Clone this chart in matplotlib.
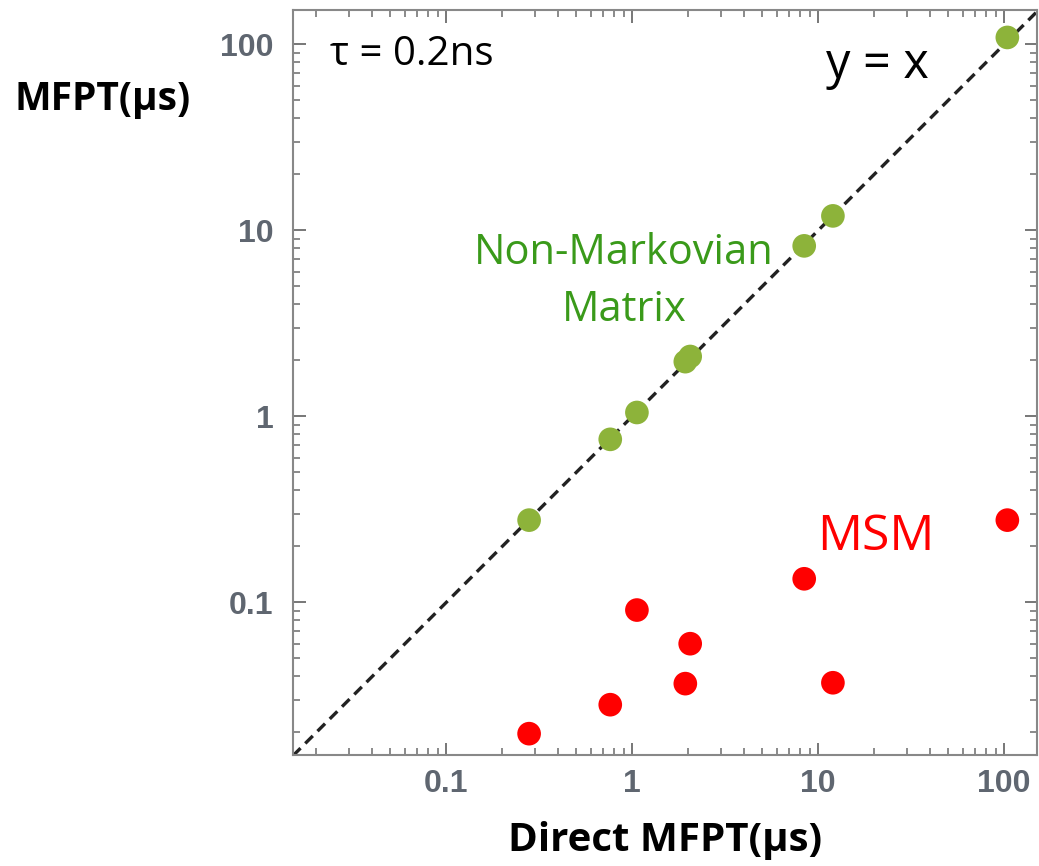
import numpy as np
import matplotlib.pyplot as plt
from matplotlib.ticker import LogLocator, NullFormatter, FixedLocator, FixedFormatter

# direct MFPT (x) and the two estimates (y), in microseconds
direct = [0.279, 0.762, 1.06, 1.93, 2.05, 8.41, 12.0, 104]
non_markov = [0.277, 0.753, 1.05, 1.97, 2.10, 8.26, 11.97, 109]
msm = [0.0197, 0.0282, 0.091, 0.0366, 0.060, 0.134, 0.037, 0.277]

tick_vals = [0.1, 1, 10, 100]
tick_labels = ['0.1', '1', '10', '100']

fig = plt.figure(figsize=(10.39, 8.66), dpi=100)
ax = fig.add_axes([0.282, 0.128, 0.716, 0.861])

lim = (0.0150, 152)
ax.plot(lim, lim, color='#222222', linestyle=(0, (3.2, 2.0)), linewidth=2.4, zorder=2)
ax.scatter(direct, non_markov, s=290, color='#8DB33A', edgecolors='none', zorder=3)
ax.scatter(direct, msm, s=290, color='#FF0000', edgecolors='none', zorder=3)

ax.set_xscale('log')
ax.set_yscale('log')
ax.set_xlim(0.0150, 150)
ax.set_ylim(0.0151, 154)

for axis in (ax.xaxis, ax.yaxis):
    axis.set_major_locator(FixedLocator(tick_vals))
    axis.set_major_formatter(FixedFormatter(tick_labels))
    axis.set_minor_locator(LogLocator(base=10, subs=np.arange(2, 10), numticks=20))
    axis.set_minor_formatter(NullFormatter())

ax.tick_params(which='both', direction='in', top=True, right=True, color='#777777')
ax.tick_params(which='major', length=9, width=1.4)
ax.tick_params(which='minor', length=5, width=1.2)
ax.tick_params(axis='x', pad=10)
ax.tick_params(axis='y', pad=14)
for lab in ax.get_xticklabels() + ax.get_yticklabels():
    lab.set_fontsize(23)
    lab.set_fontweight('bold')
    lab.set_color('#5F6670')
    lab.set_family('Liberation Sans')
for sp in ax.spines.values():
    sp.set_color('#888888')
    sp.set_linewidth(1.5)

fam = ['Open Sans', 'DejaVu Sans']
fig.text(0.014, 0.885, 'MFPT(μs)', fontsize=28, fontweight='bold', family=fam, va='center', ha='left')
fig.text(0.64, 0.03, 'Direct MFPT(μs)', fontsize=29, fontweight='bold', family=fam, va='center', ha='center')
ax.text(0.05, 0.94, 'τ = 0.2ns', transform=ax.transAxes, fontsize=29, family=fam, va='center', ha='left')
ax.text(0.785, 0.925, 'y = x', transform=ax.transAxes, fontsize=35, family=fam, va='center', ha='center')
ax.text(0.445, 0.635, 'Non-Markovian\nMatrix', transform=ax.transAxes, fontsize=30, family=fam,
        color='#3A9A1A', va='center', ha='center', linespacing=1.45)
ax.text(0.784, 0.292, 'MSM', transform=ax.transAxes, fontsize=36, family=fam, color='#FF0000',
        va='center', ha='center')

fig.savefig('out.png', dpi=100)
